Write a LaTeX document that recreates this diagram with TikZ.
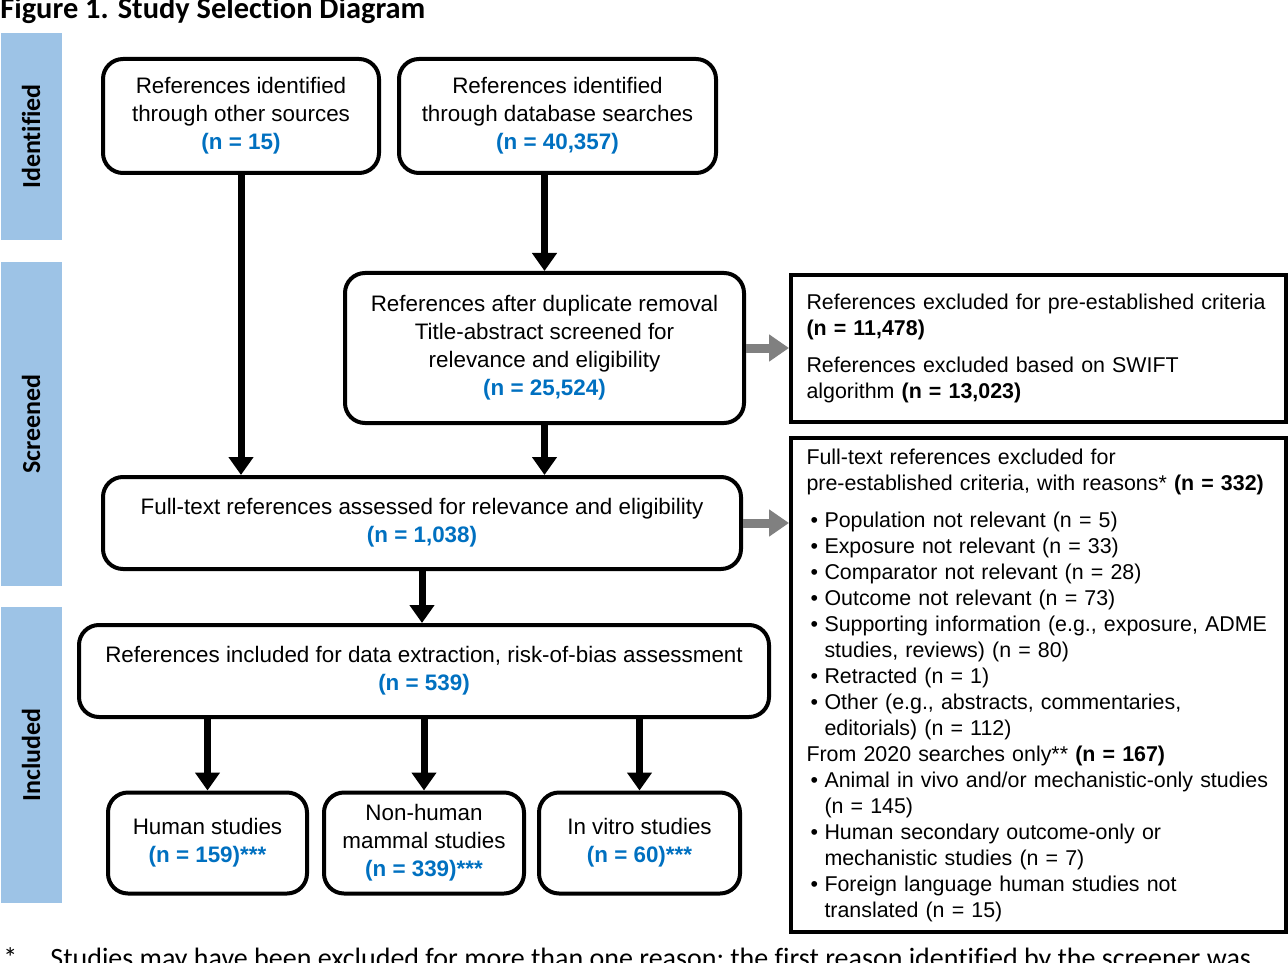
\documentclass[tikz,border=0pt]{standalone}
\usepackage{fontspec}
\setmainfont{Liberation Sans}
\newfontfamily\calibri[Ligatures=NoCommon]{Carlito}
\usepackage{xcolor}
\usepackage{tikz}
\usetikzlibrary{arrows.meta}
\usetikzlibrary{calc}
\definecolor{bandblue}{HTML}{9DC3E6}
\definecolor{nblue}{HTML}{0070C0}
\definecolor{arrgray}{HTML}{808080}
\newcommand{\nb}[1]{{\color{nblue}\bfseries #1}}
\newcommand{\itm}{\hspace*{2pt}\makebox[7pt][l]{\textbullet}}
\newcommand{\cnt}{\hspace*{9pt}}

\begin{document}
\begin{tikzpicture}[x=0.5pt,y=-0.5pt,
  box/.style={draw,line width=2pt,rounded corners=10pt,align=center,inner sep=0pt,font=\fontsize{11.2}{14}\selectfont},
  xbox/.style={draw,line width=2pt,align=left,text width=232pt,inner xsep=7.75pt,inner ysep=0pt,font=\fontsize{10.7}{13}\selectfont},
  blk/.style={line width=3.5pt,-{Triangle[width=12pt,length=9pt]}},
  gry/.style={color=arrgray,line width=4.5pt,-{Triangle[width=13pt,length=10pt]}}]
\clip (0,0) rectangle (1288,962);

\node[anchor=base west,inner sep=0pt,font=\calibri\bfseries\fontsize{15.2}{18}\selectfont] (title) at (0,19) {Figure 1. Study Selection Diagram};

 \foreach \t/\ya/\yb [count=\n] in
        {Identified/33/240,Screened/262/586,Included/607/903}
           \node[fill=bandblue,rotate=90,inner sep=0pt,minimum width={(\yb-\ya)*0.5pt},minimum height=30.5pt,font=\calibri\bfseries\fontsize{13}{15}\selectfont](Sb\n) at (31,{(\ya+\yb)/2}) {\t};

\node[box,minimum width=138pt,minimum height=57pt] (other) at (241,116) {References identified\\through other sources\\\nb{(n = 15)}};
\node[box,minimum width=158.5pt,minimum height=57pt] (db) at (557.5,116) {References identified\\through database searches\\\nb{(n = 40,357)}};
\node[box,minimum width=199.5pt,minimum height=75pt] (dup) at (544.5,348) {References after duplicate removal\\Title-abstract screened for\\relevance and eligibility\\\nb{(n = 25,524)}};
\node[box,minimum width=319pt,minimum height=46pt] (full) at (422,523) {Full-text references assessed for relevance and eligibility\\\nb{(n = 1,038)}};
\node[box,minimum width=345pt,minimum height=46pt] (incl) at (424,671) {References included for data extraction, risk-of-bias assessment\\\nb{(n = 539)}};

 \foreach \x/\w/\t [count=\n] in
        {207.5/99.5/{Human studies\\\nb{(n = 159)***}},424/100/{Non-human\\mammal studies\\\nb{(n = 339)***}},639.5/100.5/{In vitro studies\\\nb{(n = 60)***}}}
           \node[box,minimum width=\w pt,minimum height=50.5pt](St\n) at (\x,843) {\t};

\node[xbox,minimum height=73.5pt] (exA) at (1038.5,348.5) {References excluded for pre-established criteria\\
\textbf{(n = 11,478)}\\[5.5pt]
References excluded based on SWIFT\\
algorithm \textbf{(n = 13,023)}};

\node[xbox,minimum height=247pt] (exB) at (1038.5,685) {Full-text references excluded for\\
pre-established criteria, with reasons* \textbf{(n = 332)}\\[5.5pt]
\itm Population not relevant (n = 5)\\
\itm Exposure not relevant (n = 33)\\
\itm Comparator not relevant (n = 28)\\
\itm Outcome not relevant (n = 73)\\
\itm Supporting information (e.g., exposure, ADME\\
\cnt studies, reviews) (n = 80)\\
\itm Retracted (n = 1)\\
\itm Other (e.g., abstracts, commentaries,\\
\cnt editorials) (n = 112)\\
From 2020 searches only** \textbf{(n = 167)}\\
\itm Animal in vivo and/or mechanistic-only studies\\
\cnt (n = 145)\\
\itm Human secondary outcome-only or\\
\cnt mechanistic studies (n = 7)\\
\itm Foreign language human studies not\\
\cnt translated (n = 15)};

% flow
\draw[blk] (other.south) -- (other.south |- full.north);
\draw[blk] (dup.north |- db.south) -- (dup.north);
\draw[blk] (dup.south) -- (dup.south |- full.north);
\draw[blk] (full.south) -- (full.south |- incl.north);
\foreach \n in {1,2,3}
  \draw[blk] (incl.south -| St\n.north) -- (St\n.north);

\draw[gry] (dup.east) -- (dup.east -| exA.west);
\draw[gry] (full.east) -- (full.east -| exB.west);

\node[anchor=base west,inner sep=0pt,font=\calibri\fontsize{14}{16}\selectfont] (fnmark) at (3,967) {*};
\node[anchor=base west,inner sep=0pt,font=\calibri\fontsize{14}{16}\selectfont] (fn) at (50,967) {Studies may have been excluded for more than one reason; the first reason identified by the screener was};
\end{tikzpicture}
\end{document}
